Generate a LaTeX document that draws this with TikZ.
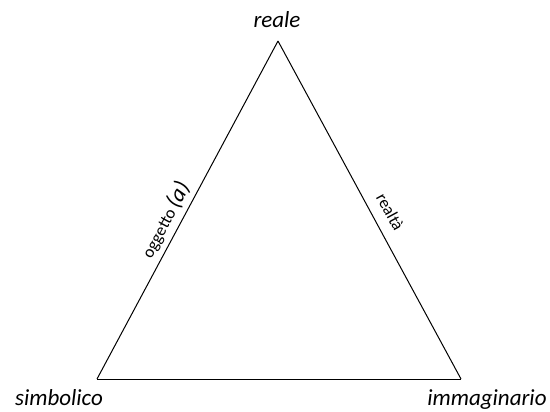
\documentclass[tikz,border=0pt]{standalone}
\usepackage{fontspec}
\setmainfont{Carlito}
\begin{document}
\begin{tikzpicture}[x=1pt,y=-1pt,
  vlabel/.style={font=\fontsize{23}{25}\selectfont\itshape, inner sep=0pt},
  elabel/.style={font=\fontsize{17}{19}\selectfont, inner sep=0pt, sloped, above=5pt},
  edge/.style={draw=black, line width=1pt, line join=miter}]
\useasboundingbox (0,0) rectangle (550,412);
\coordinate (R) at (278,41);
\coordinate (S) at (97,379);
\coordinate (I) at (461,379);
\node[vlabel] (reale) at (277,20) {reale};
\node[vlabel] (simb) at (59,398) {simbolico};
\node[vlabel] (imm) at (487,400) {immaginario};
\draw[edge] (S) -- node[elabel, pos=0.45] (ogg) {oggetto {\fontsize{23}{25}\selectfont\itshape(a)}} (R);
\draw[edge] (R) -- node[elabel, pos=0.53, above=6pt] (realta) {realtà} (I);
\draw[edge] (S) -- (I);
\end{tikzpicture}
\end{document}
